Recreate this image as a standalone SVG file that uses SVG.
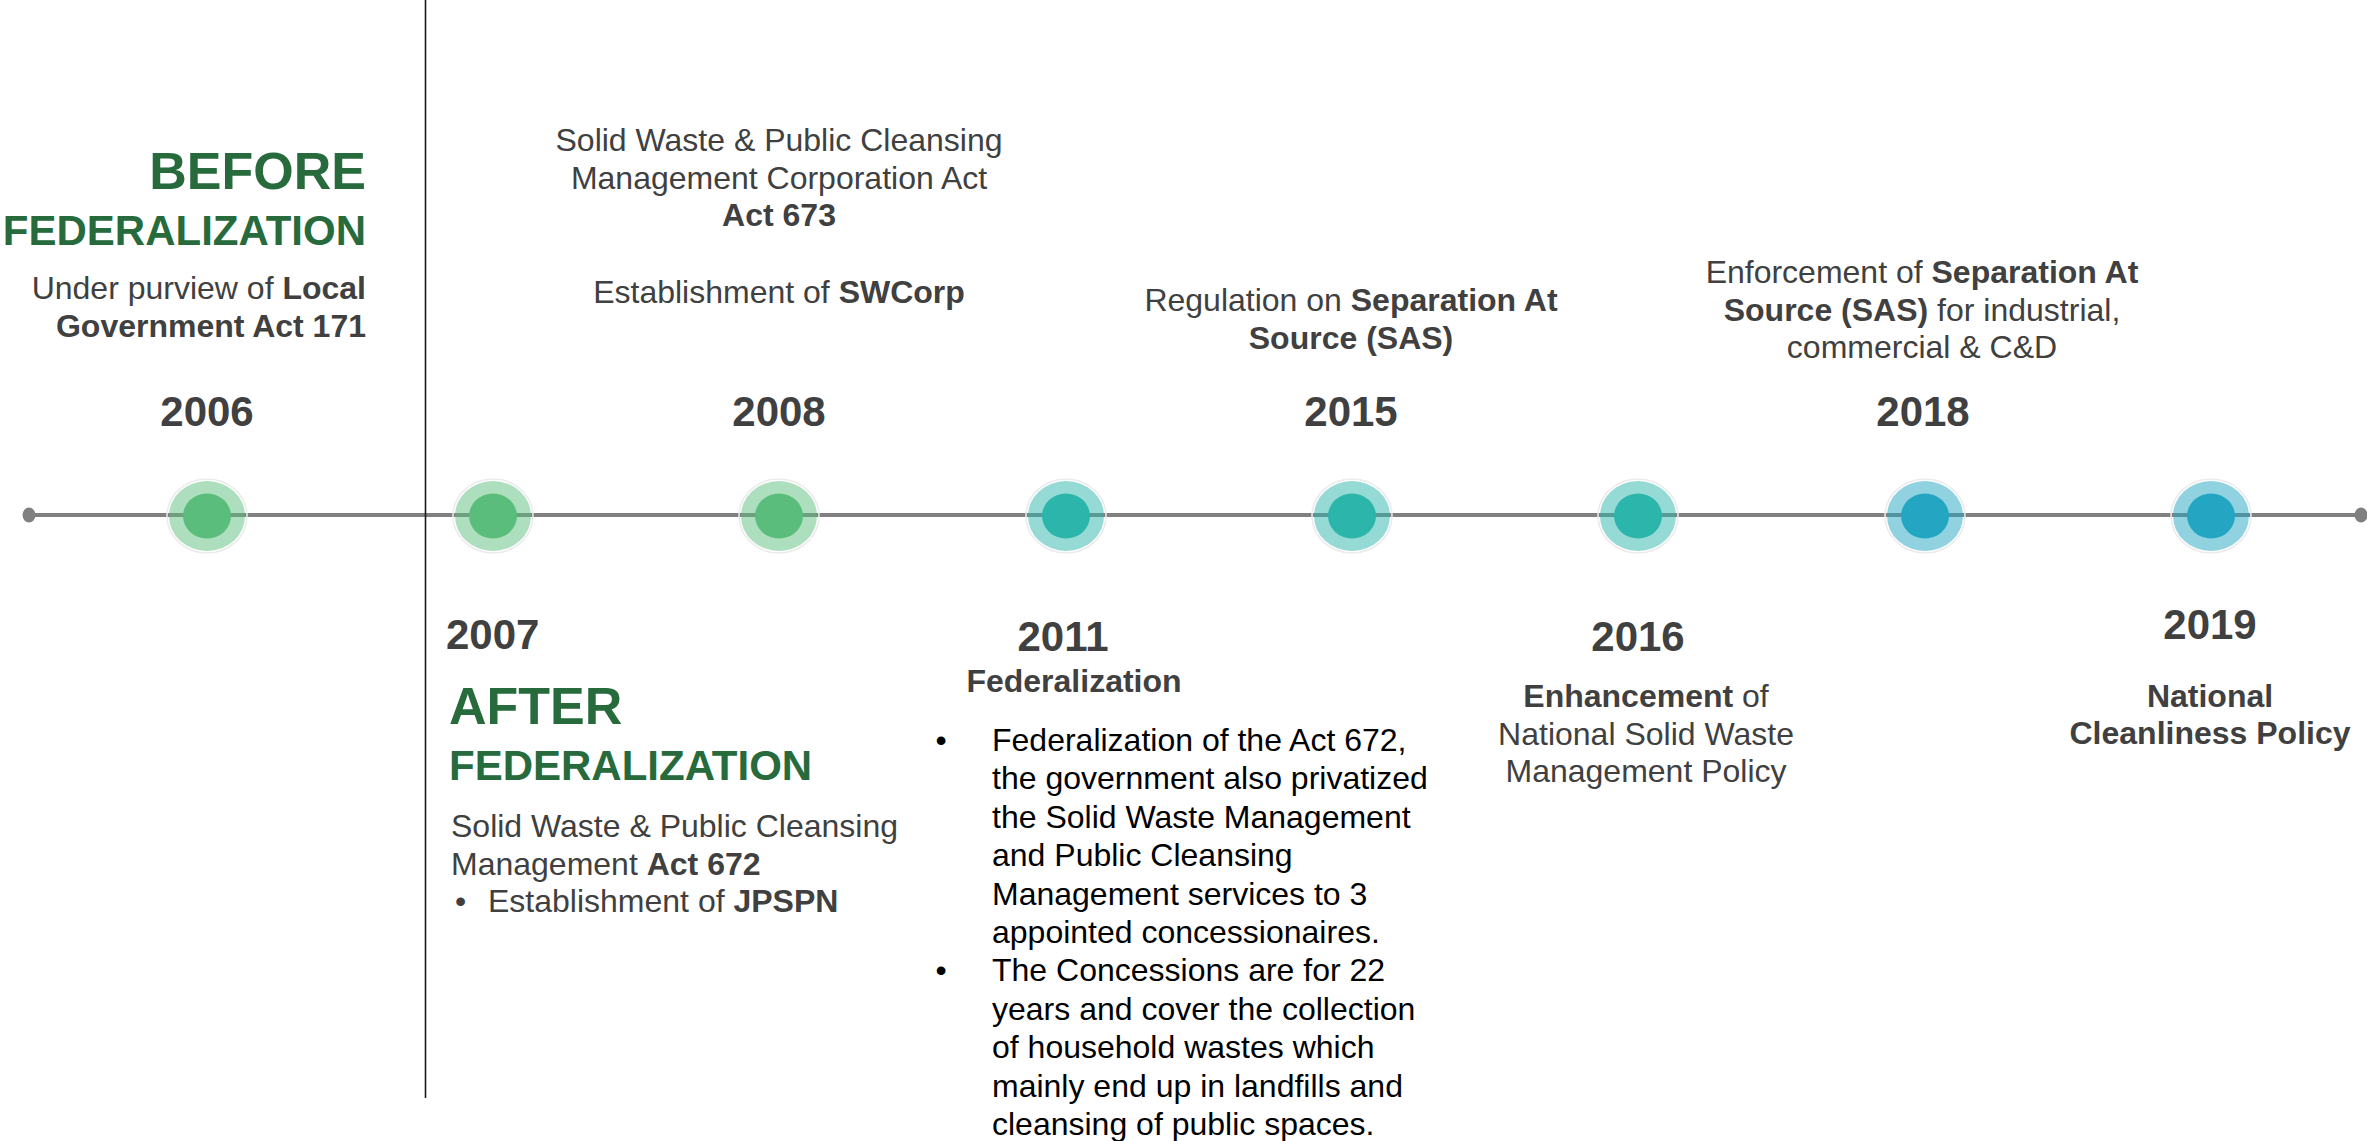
<svg xmlns="http://www.w3.org/2000/svg" width="2367" height="1141" viewBox="0 0 2367 1141">
  <style>
    text { font-family: "Liberation Sans", Arial, sans-serif; fill: #404040; }
    .yr { font-size: 42px; font-weight: bold; }
    .tx { font-size: 32px; }
    .b { font-weight: bold; }
    .h1 { font-size: 52px; font-weight: bold; fill: #276b3d; }
    .h2 { font-size: 42px; font-weight: bold; fill: #276b3d; }
    .blk { fill: #000; }
    .mid { text-anchor: middle; }
    .end { text-anchor: end; }
    .axis { stroke: #808080; stroke-width: 4; fill: none; }
    .cap { fill: #808080; }
    .divider { stroke: #1a1a1a; stroke-width: 1.6; }
    .green { color: #5bbd7b; }
    .teal { color: #2bb5ab; }
    .blue { color: #24a6c3; }
  </style>
  <defs>
    <!-- milestone marker: faint halo, translucent ring, solid core (tinted by currentColor) -->
    <g id="dot">
      <ellipse cx="0" cy="0" rx="40" ry="37" fill="none" stroke="#ebebeb" stroke-width="1.5"/>
      <ellipse cx="0" cy="0" rx="38" ry="35" fill="currentColor" opacity="0.5"/>
      <ellipse cx="0" cy="0" rx="24" ry="22.5" fill="currentColor"/>
    </g>
  </defs>

  <rect width="2367" height="1141" fill="#fff"/>

  <!-- timeline axis and era divider -->
  <g id="connectors">
    <line class="axis" x1="29" y1="515" x2="2362" y2="515"/>
    <ellipse class="cap" cx="29" cy="515" rx="6.5" ry="7.5"/>
    <ellipse class="cap" cx="2361" cy="515" rx="6.5" ry="7.5"/>
    <line class="divider" x1="425.5" y1="0" x2="425.5" y2="1098"/>
  </g>

  <!-- era headings -->
  <g id="before-heading">
    <text class="h1 end" x="366" y="189">BEFORE</text>
    <text class="h2 end" x="366" y="245">FEDERALIZATION</text>
  </g>
  <g id="after-heading">
    <text class="h1" x="449" y="724">AFTER</text>
    <text class="h2" x="449" y="780">FEDERALIZATION</text>
  </g>

  <!-- 2006 -->
  <g id="node-2006" class="green">
    <use href="#dot" x="207" y="516"/>
    <text class="yr mid" x="207" y="426">2006</text>
    <text class="tx end" x="366" y="299">Under purview of <tspan class="b">Local</tspan></text>
    <text class="tx end b" x="366" y="337">Government Act 171</text>
  </g>

  <!-- 2007 -->
  <g id="node-2007" class="green">
    <use href="#dot" x="493" y="516"/>
    <text class="yr" x="446" y="649">2007</text>
    <text class="tx" x="451" y="837">Solid Waste &amp; Public Cleansing</text>
    <text class="tx" x="451" y="875">Management <tspan class="b">Act 672</tspan></text>
    <text class="tx" x="455" y="912">•</text>
    <text class="tx" x="488" y="912">Establishment of <tspan class="b">JPSPN</tspan></text>
  </g>

  <!-- 2008 -->
  <g id="node-2008" class="green">
    <use href="#dot" x="779" y="516"/>
    <text class="yr mid" x="779" y="426">2008</text>
    <text class="tx mid" x="779" y="151">Solid Waste &amp; Public Cleansing</text>
    <text class="tx mid" x="779" y="189">Management Corporation Act</text>
    <text class="tx mid b" x="779" y="226">Act 673</text>
    <text class="tx mid" x="779" y="303">Establishment of <tspan class="b">SWCorp</tspan></text>
  </g>

  <!-- 2011 -->
  <g id="node-2011" class="teal">
    <use href="#dot" x="1066" y="516"/>
    <text class="yr mid" x="1063" y="651">2011</text>
    <text class="tx mid b" x="1074" y="692">Federalization</text>
    <text class="tx blk mid" x="941" y="751">•</text>
    <text class="tx blk mid" x="941" y="981.4">•</text>
    <text class="tx blk">
      <tspan x="992" y="751">Federalization of the Act 672,</tspan>
      <tspan x="992" y="789.4">the government also privatized</tspan>
      <tspan x="992" y="827.8">the Solid Waste Management</tspan>
      <tspan x="992" y="866.2">and Public Cleansing</tspan>
      <tspan x="992" y="904.6">Management services to 3</tspan>
      <tspan x="992" y="943">appointed concessionaires.</tspan>
      <tspan x="992" y="981.4">The Concessions are for 22</tspan>
      <tspan x="992" y="1019.8">years and cover the collection</tspan>
      <tspan x="992" y="1058.2">of household wastes which</tspan>
      <tspan x="992" y="1096.6">mainly end up in landfills and</tspan>
      <tspan x="992" y="1135">cleansing of public spaces.</tspan>
    </text>
  </g>

  <!-- 2015 -->
  <g id="node-2015" class="teal">
    <use href="#dot" x="1352" y="516"/>
    <text class="yr mid" x="1351" y="426">2015</text>
    <text class="tx mid" x="1351" y="311">Regulation on <tspan class="b">Separation At</tspan></text>
    <text class="tx mid b" x="1351" y="349">Source (SAS)</text>
  </g>

  <!-- 2016 -->
  <g id="node-2016" class="teal">
    <use href="#dot" x="1638" y="516"/>
    <text class="yr mid" x="1638" y="651">2016</text>
    <text class="tx mid" x="1646" y="707"><tspan class="b">Enhancement</tspan> of</text>
    <text class="tx mid" x="1646" y="745">National Solid Waste</text>
    <text class="tx mid" x="1646" y="782">Management Policy</text>
  </g>

  <!-- 2018 -->
  <g id="node-2018" class="blue">
    <use href="#dot" x="1925" y="516"/>
    <text class="yr mid" x="1923" y="426">2018</text>
    <text class="tx mid" x="1922" y="283">Enforcement of <tspan class="b">Separation At</tspan></text>
    <text class="tx mid" x="1922" y="320.5"><tspan class="b">Source (SAS)</tspan> for industrial,</text>
    <text class="tx mid" x="1922" y="358">commercial &amp; C&amp;D</text>
  </g>

  <!-- 2019 -->
  <g id="node-2019" class="blue">
    <use href="#dot" x="2211" y="516"/>
    <text class="yr mid" x="2210" y="639">2019</text>
    <text class="tx mid b" x="2210" y="707">National</text>
    <text class="tx mid b" x="2210" y="744">Cleanliness Policy</text>
  </g>
</svg>
